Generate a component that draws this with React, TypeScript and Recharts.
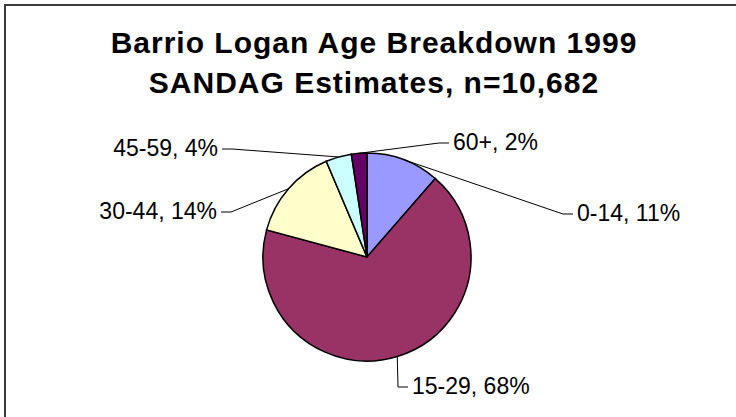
import React from 'react';
import { PieChart, Pie, Cell } from 'recharts';

// age groups and SANDAG 1999 estimates (persons, total 10,682)
const ageGroups = ['0-14', '15-29', '30-44', '45-59', '60+'];
const persons = [1218, 7242, 1538, 427, 257];
const sliceColors = ['#9999FF', '#993366', '#FFFFCC', '#CCFFFF', '#660066'];

// where each label sits, relative to the pie centre (px), and which side the text runs to
const labelOffsets = [
  { dx: 210, dy: -44, anchor: 'start' },
  { dx: 45, dy: 129, anchor: 'start' },
  { dx: -150, dy: -46, anchor: 'end' },
  { dx: -149, dy: -109, anchor: 'end' },
  { dx: 86, dy: -115, anchor: 'start' },
];

const chartData = ageGroups.map((name, i) => ({ name, value: persons[i] }));

const RADIAN = Math.PI / 180;
const FONT = '"Liberation Sans", Arial, sans-serif';

const renderLabel = (props: any) => {
  const { cx, cy, midAngle, outerRadius, percent, index, name } = props;
  const off = labelOffsets[index];
  const ex = cx + outerRadius * Math.cos(-midAngle * RADIAN);
  const ey = cy + outerRadius * Math.sin(-midAngle * RADIAN);
  const tx = cx + off.dx;
  const ty = cy + off.dy;
  const dir = off.anchor === 'start' ? -1 : 1;
  const stubEnd = tx + dir * 4;
  const elbow = tx + dir * 14;
  return (
    <g>
      <polyline
        points={`${ex},${ey} ${elbow},${ty + 1} ${stubEnd},${ty + 1}`}
        fill="none"
        stroke="#000"
        strokeWidth={1}
      />
      <text
        x={tx}
        y={ty}
        textAnchor={off.anchor}
        dominantBaseline="central"
        fill="#000"
        style={{ fontFamily: FONT, fontSize: 23 }}
      >
        {`${name}, ${Math.round(percent * 100)}%`}
      </text>
    </g>
  );
};

export default function App() {
  return (
    <div
      style={{
        position: 'absolute',
        left: 0,
        top: 0,
        width: 736,
        height: 417,
        overflow: 'hidden',
        background: '#fff',
      }}
    >
      <div
        style={{
          position: 'absolute',
          left: 4,
          top: 4,
          width: 900,
          height: 600,
          border: '2px solid #3a3a3a',
        }}
      />
      <div
        style={{
          position: 'absolute',
          left: 6,
          top: 23,
          width: 736,
          textAlign: 'center',
          fontFamily: FONT,
          fontWeight: 'bold',
          fontSize: 30,
          lineHeight: '40px',
          letterSpacing: 1,
          color: '#000',
        }}
      >
        <div>Barrio Logan Age Breakdown 1999</div>
        <div>SANDAG Estimates, n=10,682</div>
      </div>
      <div style={{ position: 'absolute', left: 0, top: 0 }}>
        <PieChart width={736} height={417} margin={{ top: 0, right: 0, bottom: 0, left: 0 }}>
          <Pie
            data={chartData}
            dataKey="value"
            nameKey="name"
            cx={367}
            cy={257}
            outerRadius={104}
            startAngle={90}
            endAngle={-270}
            stroke="#000"
            strokeWidth={1.5}
            label={renderLabel}
            labelLine={false}
            isAnimationActive={false}
          >
            {chartData.map((d, i) => (
              <Cell key={d.name} fill={sliceColors[i]} />
            ))}
          </Pie>
        </PieChart>
      </div>
    </div>
  );
}
